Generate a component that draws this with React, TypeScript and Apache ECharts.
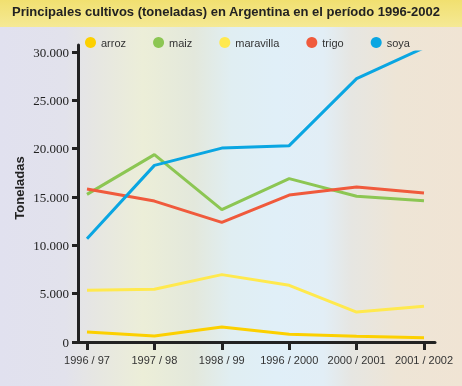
import React, { useEffect, useRef } from "react";
import * as echarts from "echarts";

const categories = ["1996 / 97", "1997 / 98", "1998 / 99", "1996 / 2000", "2000 / 2001", "2001 / 2002"];
const arroz = [1030, 620, 1550, 800, 590, 450];
const maiz = [15270, 19380, 13690, 16900, 15070, 14620];
const maravilla = [5350, 5450, 6970, 5860, 3100, 3690];
const trigo = [15820, 14580, 12380, 15200, 16030, 15410];
const soya = [10690, 18270, 20060, 20310, 27240, 30440];
const seriesNames = ["arroz", "maiz", "maravilla", "trigo", "soya"];
const seriesColors = ["#fcd000", "#8cc653", "#ffe94e", "#f05a3c", "#0aa6e2"];
const title = "Principales cultivos (toneladas) en Argentina en el período 1996-2002";
const yName = "Toneladas";

export default function App() {
  const ref = useRef<HTMLDivElement>(null);
  useEffect(() => {
    if (!ref.current) return;
    const chart = echarts.init(ref.current, null, { renderer: "svg" });
    const data = [arroz, maiz, maravilla, trigo, soya];
    chart.setOption({
      animation: false,
      graphic: [
        {
          type: "rect",
          z: -10,
          silent: true,
          shape: { x: 0, y: 0, width: 462, height: 386 },
          style: {
            fill: new echarts.graphic.LinearGradient(0, 0, 1, 0, [
              { offset: 0, color: "#e1e1ef" },
              { offset: 0.14, color: "#e2e2ec" },
              { offset: 0.2, color: "#e6e6e3" },
              { offset: 0.31, color: "#eceed8" },
              { offset: 0.42, color: "#e3e8dc" },
              { offset: 0.5, color: "#e0eef2" },
              { offset: 0.6, color: "#e0eff8" },
              { offset: 0.7, color: "#e2eef6" },
              { offset: 0.76, color: "#e6e6e2" },
              { offset: 0.86, color: "#eee5d6" },
              { offset: 1, color: "#f0e4d4" },
            ]),
          },
        },
        {
          type: "rect",
          z: -9,
          silent: true,
          shape: { x: 0, y: 0, width: 462, height: 27 },
          style: {
            fill: new echarts.graphic.LinearGradient(0, 0, 0, 1, [
              { offset: 0, color: "#f1e070" },
              { offset: 1, color: "#f5e995" },
            ]),
          },
        },
      ],
      title: {
        text: title,
        left: 7,
        top: 0,
        textStyle: { fontFamily: "Liberation Sans, Arial", fontWeight: "bold", fontSize: 13, color: "#222" },
      },
      legend: {
        data: seriesNames,
        left: 80,
        top: 32,
        icon: "circle",
        itemWidth: 11,
        itemHeight: 11,
        itemGap: 27,
        textStyle: { fontFamily: "Liberation Sans, Arial", fontSize: 11, color: "#333" },
      },
      grid: [
        { left: 87, right: 38, top: 52, bottom: 44 },
        { left: 78, right: 27, top: 45, bottom: 44 },
      ],
      xAxis: [
        {
          type: "category",
          gridIndex: 0,
          data: categories,
          boundaryGap: false,
          axisLine: { show: false },
          axisTick: { show: true, length: 8, lineStyle: { width: 3, color: "#222" } },
          axisLabel: { interval: 0, margin: 12, fontFamily: "Liberation Sans, Arial", fontSize: 11, color: "#333" },
          splitLine: { show: false },
        },
        {
          type: "value",
          gridIndex: 1,
          min: 0,
          max: 1,
          axisLine: { show: true, lineStyle: { width: 3, color: "#222" } },
          axisTick: { show: false },
          axisLabel: { show: false },
          splitLine: { show: false },
        },
      ],
      yAxis: [
        {
          type: "value",
          gridIndex: 0,
          min: 0,
          max: 30000,
          interval: 5000,
          offset: 9,
          name: yName,
          nameLocation: "middle",
          nameGap: 52,
          nameMoveOverlap: false,
          nameTextStyle: {
            fontFamily: "Liberation Sans, Arial",
            fontWeight: "bold",
            fontSize: 13,
            color: "#222",
            padding: [0, 0, 0, 18],
          },
          axisLine: { show: false },
          axisTick: { show: true, length: 6, lineStyle: { width: 3, color: "#222" } },
          axisLabel: {
            margin: 9,
            fontFamily: "Liberation Serif, Times New Roman, serif",
            fontSize: 13,
            color: "#222",
            formatter: (v: number) => (v === 0 ? "0" : v / 1000 + ".000"),
          },
          splitLine: { show: false },
        },
        {
          type: "value",
          gridIndex: 1,
          min: 0,
          max: 1,
          axisLine: { show: true, lineStyle: { width: 3, color: "#222" } },
          axisTick: { show: false },
          axisLabel: { show: false },
          splitLine: { show: false },
        },
      ],
      series: seriesNames.map((n, i) => ({
        name: n,
        type: "line",
        xAxisIndex: 0,
        yAxisIndex: 0,
        data: data[i],
        symbol: "none",
        color: seriesColors[i],
        lineStyle: { width: 3, color: seriesColors[i] },
      })),
    });
    return () => chart.dispose();
  }, []);
  return <div ref={ref} style={{ position: "fixed", left: 0, top: 0, width: 462, height: 386 }} />;
}
